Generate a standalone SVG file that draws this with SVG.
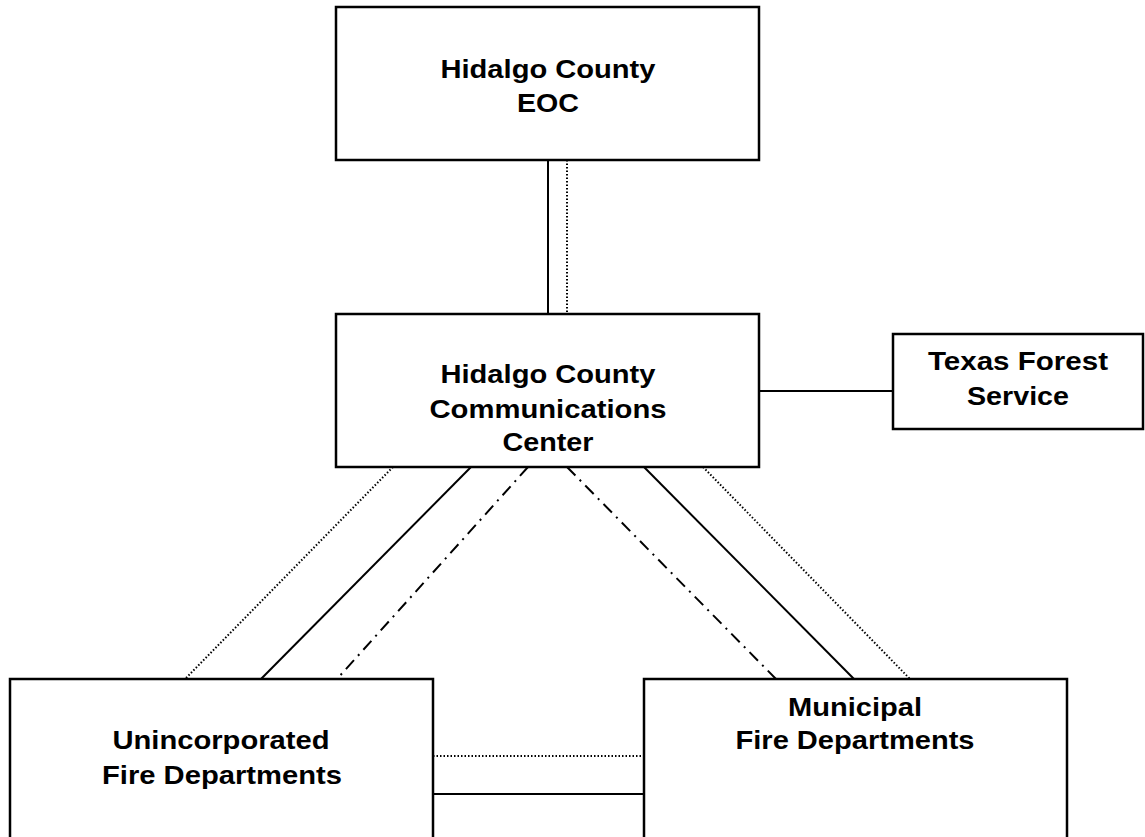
<svg xmlns="http://www.w3.org/2000/svg" width="1145" height="837" viewBox="0 0 1145 837">
<style>
.box{fill:#fff;stroke:#000;stroke-width:2.5}
.lbl{font-family:"Liberation Sans",Arial,sans-serif;font-weight:bold;font-size:25px;fill:#000;text-anchor:middle}
.solid{stroke:#000;stroke-width:2;fill:none}
.dot{stroke:#000;stroke-width:2;fill:none;stroke-dasharray:1.5 2}
.dashdot{stroke:#000;stroke-width:2;fill:none;stroke-dasharray:12 6 2 6}
</style>
<rect width="1145" height="837" fill="#fff"/>
<g id="connectors">
<line class="solid" x1="548" y1="160" x2="548" y2="314"/>
<line class="dot" x1="567" y1="160" x2="567" y2="314"/>
<line class="solid" x1="759" y1="391" x2="893" y2="391"/>
<line class="dot" x1="393" y1="467" x2="185" y2="679"/>
<line class="solid" x1="471" y1="467" x2="261" y2="679"/>
<line class="dashdot" x1="528" y1="467" x2="337" y2="679"/>
<line class="dashdot" x1="567" y1="467" x2="776" y2="679"/>
<line class="solid" x1="644" y1="467" x2="854" y2="679"/>
<line class="dot" x1="703" y1="467" x2="910" y2="679"/>
<line class="dot" x1="433" y1="756" x2="644" y2="756"/>
<line class="solid" x1="433" y1="794" x2="644" y2="794"/>
</g>
<g id="eoc">
<rect class="box" x="336" y="7" width="423" height="153"/>
<text class="lbl" x="548" y="78" textLength="215" lengthAdjust="spacingAndGlyphs">Hidalgo County</text>
<text class="lbl" x="548" y="112" textLength="62" lengthAdjust="spacingAndGlyphs">EOC</text>
</g>
<g id="comms">
<rect class="box" x="336" y="314" width="423" height="153"/>
<text class="lbl" x="548" y="383" textLength="215" lengthAdjust="spacingAndGlyphs">Hidalgo County</text>
<text class="lbl" x="548" y="418" textLength="237" lengthAdjust="spacingAndGlyphs">Communications</text>
<text class="lbl" x="548" y="451" textLength="91" lengthAdjust="spacingAndGlyphs">Center</text>
</g>
<g id="tfs">
<rect class="box" x="893" y="334" width="250" height="95"/>
<text class="lbl" x="1018" y="370" textLength="180" lengthAdjust="spacingAndGlyphs">Texas Forest</text>
<text class="lbl" x="1018" y="405" textLength="102" lengthAdjust="spacingAndGlyphs">Service</text>
</g>
<g id="unincorporated">
<rect class="box" x="10" y="679" width="423" height="180"/>
<text class="lbl" x="221" y="749" textLength="217" lengthAdjust="spacingAndGlyphs">Unincorporated</text>
<text class="lbl" x="222" y="784" textLength="240" lengthAdjust="spacingAndGlyphs">Fire Departments</text>
</g>
<g id="municipal">
<rect class="box" x="644" y="679" width="423" height="180"/>
<text class="lbl" x="855" y="716" textLength="134" lengthAdjust="spacingAndGlyphs">Municipal</text>
<text class="lbl" x="855" y="749" textLength="239" lengthAdjust="spacingAndGlyphs">Fire Departments</text>
</g>
</svg>
